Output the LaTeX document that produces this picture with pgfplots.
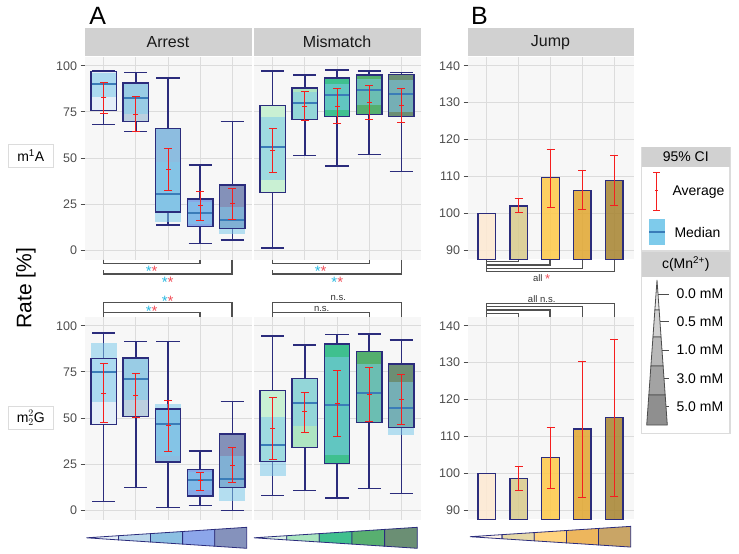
\documentclass[border=0pt]{standalone}
\usepackage{fontspec}
\setmainfont{Liberation Sans}
\usepackage{pgfplots}
\pgfplotsset{compat=1.18}
\usepgfplotslibrary{statistics}

\definecolor{panelbg}{HTML}{F7F7F7}
\definecolor{gridc}{HTML}{DCDCDC}
\definecolor{stripc}{HTML}{D1D1D1}
\definecolor{navy}{HTML}{2B2C7C}
\definecolor{medc}{HTML}{3A7CB8}
\definecolor{bandc}{HTML}{7ECBEB}
\definecolor{redc}{HTML}{F51E1E}
\definecolor{tickc}{HTML}{4D4D4D}
\definecolor{brk}{HTML}{505050}
\definecolor{cyanS}{HTML}{2BB8E0}
\definecolor{redS}{HTML}{F0505A}
% box fills
\definecolor{a1}{HTML}{E4EEF8}
\definecolor{a2}{HTML}{BBCFDF}
\definecolor{a3}{HTML}{8DBDE0}
\definecolor{a4}{HTML}{87A7E6}
\definecolor{a5}{HTML}{8491B9}
\definecolor{m1}{HTML}{C9F0D3}
\definecolor{m2}{HTML}{AEE5C2}
\definecolor{m3}{HTML}{3FC08F}
\definecolor{m4}{HTML}{54AF6E}
\definecolor{m5}{HTML}{6C8E74}
\definecolor{j1}{HTML}{FDE9D2}
\definecolor{j2}{HTML}{D9CB8C}
\definecolor{j3}{HTML}{FFC947}
\definecolor{j4}{HTML}{E1A72F}
\definecolor{j5}{HTML}{A7832F}
% wedge fills
\definecolor{wa1}{HTML}{E6F0F8}
\definecolor{wa2}{HTML}{BAD6EA}
\definecolor{wa3}{HTML}{8CC0E2}
\definecolor{wa4}{HTML}{8CA6EA}
\definecolor{wa5}{HTML}{8592BC}
\definecolor{wm1}{HTML}{DDF4E4}
\definecolor{wm2}{HTML}{A9E5BE}
\definecolor{wm3}{HTML}{40C08E}
\definecolor{wm4}{HTML}{58AF70}
\definecolor{wm5}{HTML}{6B8F74}
\definecolor{wj1}{HTML}{FFF4E6}
\definecolor{wj2}{HTML}{E5D8A8}
\definecolor{wj3}{HTML}{FFD37E}
\definecolor{wj4}{HTML}{EDB65D}
\definecolor{wj5}{HTML}{C9A566}

\newcommand{\fs}[1]{\fontsize{#1}{#1}\selectfont}

\pgfplotsset{
  panel/.style={
    scale only axis, width=167pt, height=203pt,
    anchor=north west,
    xmin=0.4, xmax=5.6,
    axis background/.style={fill=panelbg},
    axis line style={draw=none},
    xtick={1,2,3,4,5}, xticklabels={},
    xtick style={draw=none},
    xmajorgrids, ymajorgrids,
    grid style={draw=gridc, line width=0.9pt},
    ytick pos=left,
    ytick style={draw=tickc, line width=0.8pt},
    tick align=outside, major tick length=4pt,
    yticklabel style={font=\fs{12.5}, text=tickc},
    /pgf/number format/assume math mode=true,
    clip mode=individual,
    boxplot/draw direction=y,
  },
  panelA/.style={panel, ymin=-5, ymax=105, ytick={0,25,50,75,100}},
  panelB/.style={panel, width=166pt, ymin=87.5, ymax=142.5, ytick={90,100,...,140}},
  noyl/.style={yticklabels={}, ytick style={draw=none}},
  meanbars/.style={only marks, mark=-, mark size=2.5pt,
    mark options={draw=redc, line width=1pt},
    error bars/.cd, y dir=both, y explicit,
    error bar style={draw=redc, line width=1pt},
    error mark options={rotate=90, draw=redc, mark size=4pt, line width=1pt}},
  ciBars/.style={draw=none, mark=none,
    error bars/.cd, y dir=both, y explicit,
    error bar style={draw=redc, line width=1pt},
    error mark options={rotate=90, draw=redc, mark size=4pt, line width=1pt}},
  jbar/.style={ybar, bar width=0.54, bar shift=0pt, fill=#1, fill opacity=0.85,
    draw=navy, line width=1.2pt},
}

% pos, fill, lower whisker, q1, median, q3, upper whisker, band low, band high
\newcommand{\bx}[9]{%
  \addplot[boxplot prepared={draw position=#1, lower whisker=#3, lower quartile=#4,
      median=#5, upper quartile=#6, upper whisker=#7, box extend=0.8, whisker extend=0.72},
    boxplot/every box/.style={fill=#2, draw=none},
    boxplot/every whisker/.style={draw=navy, line width=1.3pt},
    boxplot/every median/.style={draw=none}] coordinates {};
  \addplot[boxplot prepared={draw position=#1, lower whisker=#8, lower quartile=#8,
      median=#5, upper quartile=#9, upper whisker=#9, box extend=0.8, whisker extend=0},
    boxplot/every box/.style={fill=bandc, fill opacity=0.55, draw=none},
    boxplot/every whisker/.style={draw=none},
    boxplot/every median/.style={draw=medc, line width=2pt}] coordinates {};
  \addplot[boxplot prepared={draw position=#1, lower whisker=#4, lower quartile=#4,
      median=#5, upper quartile=#6, upper whisker=#6, box extend=0.8, whisker extend=0},
    boxplot/every box/.style={draw=navy, line width=1.3pt},
    boxplot/every whisker/.style={draw=none},
    boxplot/every median/.style={draw=none}] coordinates {};
}

\newcommand{\wedgebar}[5]{%
  \foreach \c [count=\i] in {#5} {
    \pgfmathsetmacro\xa{#1+(\i-1)*(#2-#1)/5}
    \pgfmathsetmacro\xb{#1+\i*(#2-#1)/5}
    \pgfmathsetmacro\ha{#4*(\i-1)/5}
    \pgfmathsetmacro\hb{#4*\i/5}
    \filldraw[fill=\c, draw=navy, line width=0.8pt]
      (\xa,#3-\ha) -- (\xb,#3-\hb) -- (\xb,#3+\hb) -- (\xa,#3+\ha) -- cycle;
  }
}
\newcommand{\stars}{{\color{cyanS}*}{\color{redS}*}}

\begin{document}
\begin{tikzpicture}
\useasboundingbox (0pt,0pt) rectangle (739pt,-554pt);

% ---------- A, m1A ----------
\begin{axis}[panelA, at={(84.5pt,-56.5pt)}]
  \bx{1}{a1}{68.3}{75.9}{90.3}{96.7}{97.6}{83.1}{95.8}
  \bx{2}{a2}{64.5}{69.7}{82.6}{90.7}{96.3}{73.7}{90.7}
  \bx{3}{a3}{13.7}{20.8}{30.4}{65.9}{93.4}{15.4}{48.0}
  \bx{4}{a4}{3.8}{12.8}{20.2}{27.8}{46.2}{14.0}{26.0}
  \bx{5}{a5}{5.6}{11.7}{16.3}{35.4}{69.9}{9.0}{23.5}
  \addplot[meanbars] coordinates {
    (1,82.6) += (0,8.3) -= (0,8.5)
    (2,73.5) += (0,10.0) -= (0,9.4)
    (3,43.5) += (0,11.4) -= (0,11.2)
    (4,24.4) += (0,7.2) -= (0,8.1)
    (5,25.1) += (0,8.3) -= (0,8.5)
  };
\end{axis}
\begin{axis}[panelA, noyl, at={(253.5pt,-56.5pt)}]
  \bx{1}{m1}{1.3}{31.3}{56.0}{78.6}{97.2}{37.9}{72.3}
  \bx{2}{m2}{51.5}{70.8}{79.7}{88.0}{94.9}{70.8}{86.0}
  \bx{3}{m3}{45.7}{72.6}{84.0}{93.4}{97.7}{75.9}{90.3}
  \bx{4}{m4}{51.9}{73.5}{86.7}{94.9}{97.2}{78.6}{93.0}
  \bx{5}{m5}{42.5}{72.3}{84.9}{95.2}{96.3}{75.0}{92.1}
  \addplot[meanbars] coordinates {
    (1,54.0) += (0,11.8) -= (0,12.1)
    (2,77.9) += (0,8.1) -= (0,7.8)
    (3,78.0) += (0,9.4) -= (0,9.3)
    (4,79.9) += (0,9.3) -= (0,8.9)
    (5,78.6) += (0,9.0) -= (0,9.6)
  };
\end{axis}

% ---------- A, m22G ----------
\begin{axis}[panelA, at={(84.5pt,-316.5pt)}]
  \bx{1}{a1}{4.7}{46.3}{75.1}{82.2}{96.0}{58.9}{90.8}
  \bx{2}{a2}{12.4}{51.0}{71.0}{82.5}{91.4}{59.8}{82.5}
  \bx{3}{a3}{1.4}{26.1}{46.8}{54.8}{91.4}{29.2}{57.7}
  \bx{4}{a4}{2.5}{7.7}{16.6}{22.2}{32.1}{11.0}{21.0}
  \bx{5}{a5}{0.0}{12.3}{17.1}{41.4}{59.1}{5.0}{29.2}
  \addplot[meanbars] coordinates {
    (1,63.4) += (0,15.9) -= (0,15.8)
    (2,62.2) += (0,12.0) -= (0,11.9)
    (3,45.8) += (0,13.7) -= (0,13.7)
    (4,16.0) += (0,4.7) -= (0,5.2)
    (5,24.3) += (0,9.9) -= (0,9.5)
  };
\end{axis}
\begin{axis}[panelA, noyl, at={(253.5pt,-316.5pt)}]
  \bx{1}{m1}{7.9}{26.5}{35.5}{64.9}{94.4}{18.7}{50.8}
  \bx{2}{m2}{10.8}{34.1}{58.4}{71.5}{89.5}{45.4}{71.5}
  \bx{3}{m3}{6.7}{25.2}{56.8}{90.1}{95.1}{30.1}{83.2}
  \bx{4}{m4}{11.7}{47.6}{63.4}{85.9}{95.5}{47.6}{79.3}
  \bx{5}{m5}{9.0}{45.0}{55.5}{79.3}{92.3}{40.9}{69.7}
  \addplot[meanbars] coordinates {
    (1,44.5) += (0,16.8) -= (0,17.1)
    (2,53.3) += (0,10.7) -= (0,11.0)
    (3,57.7) += (0,18.2) -= (0,17.9)
    (4,62.9) += (0,14.2) -= (0,14.8)
    (5,59.8) += (0,13.7) -= (0,13.5)
  };
\end{axis}

% ---------- B, Jump ----------
\begin{axis}[panelB, at={(467.5pt,-56.5pt)}]
  \addplot[jbar=j1] coordinates {(1,100.0)};
  \addplot[jbar=j2] coordinates {(2,102.0)};
  \addplot[jbar=j3] coordinates {(3,109.7)};
  \addplot[jbar=j4] coordinates {(4,106.3)};
  \addplot[jbar=j5] coordinates {(5,109.0)};
  \addplot[ciBars] coordinates {
    (2,102.0) += (0,2.0) -= (0,1.9)
    (3,109.7) += (0,7.7) -= (0,8.0)
    (4,106.3) += (0,5.3) -= (0,5.3)
    (5,109.0) += (0,6.7) -= (0,6.9)
  };
\end{axis}
\begin{axis}[panelB, at={(467.5pt,-316.5pt)}]
  \addplot[jbar=j1] coordinates {(1,100.0)};
  \addplot[jbar=j2] coordinates {(2,98.7)};
  \addplot[jbar=j3] coordinates {(3,104.3)};
  \addplot[jbar=j4] coordinates {(4,112.0)};
  \addplot[jbar=j5] coordinates {(5,115.1)};
  \addplot[ciBars] coordinates {
    (2,98.7) += (0,3.2) -= (0,3.3)
    (3,104.3) += (0,8.2) -= (0,8.4)
    (4,112.0) += (0,18.2) -= (0,18.5)
    (5,115.1) += (0,21.3) -= (0,21.3)
  };
\end{axis}

% ---------- annotations, in pixel units of the reference ----------
\begin{scope}[x=1pt, y=-1pt]
  % panel letters
  \node[font=\fs{25}] at (97.8,15.8) {A};
  \node[font=\fs{25}] at (479.5,15.8) {B};
  % strips
  \fill[stripc] (84.5,28.3) rectangle (251.5,56);
  \fill[stripc] (253.5,28.3) rectangle (420.5,56);
  \fill[stripc] (467.5,28.3) rectangle (633.5,56);
  \node[font=\fs{16}, text=black!90] at (168,42.2) {Arrest};
  \node[font=\fs{16}, text=black!90] at (337,42.2) {Mismatch};
  \node[font=\fs{16}, text=black!90] at (550.5,42.2) {Jump};
  % row labels
  \draw[draw=gridc, line width=1.2pt, fill=white] (8.3,144.3) rectangle (53.3,167.3);
  \node[font=\fs{14}] at (30.8,155.8) {m\textsuperscript{1}A};
  \draw[draw=gridc, line width=1.2pt, fill=white] (8.3,406.5) rectangle (53.3,429.5);
  \node[font=\fs{14}] at (30.8,418) {m$^{2}_{2}$G};
  \node[font=\fs{21}, rotate=90] at (26,288) {Rate [\%]};

  % brackets, A top
  \begin{scope}[draw=brk, line width=1.2pt]
    \draw (103.3,259.5) -- (103.3,263.3) -- (200,263.3) -- (200,259.5);
    \draw (103.3,270) -- (103.3,274) -- (232,274) -- (232,259.5);
    \draw (272.3,259.5) -- (272.3,263.3) -- (369.3,263.3) -- (369.3,259.5);
    \draw (272.3,270) -- (272.3,274) -- (401.7,274) -- (401.7,259.5);
    % A bottom
    \draw (103.3,316.5) -- (103.3,302.3) -- (232,302.3) -- (232,316.5);
    \draw (103.3,316.5) -- (103.3,312.3) -- (200,312.3) -- (200,316.5);
    \draw (272.3,316.5) -- (272.3,302.3) -- (401.7,302.3) -- (401.7,316.5);
    \draw (272.3,316.5) -- (272.3,312.3) -- (369.3,312.3) -- (369.3,316.5);
    % B top
    \draw (486.3,259.5) -- (486.3,271.7);
    \draw (486.3,261.7) -- (518.3,261.7) -- (518.3,259.5);
    \draw (486.3,265) -- (550,265) -- (550,259.5);
    \draw (486.3,268.3) -- (582.3,268.3) -- (582.3,259.5);
    \draw (486.3,271.7) -- (614.3,271.7) -- (614.3,259.5);
    % B bottom
    \draw (486.3,316.5) -- (486.3,303.3);
    \draw (486.3,303.3) -- (614.3,303.3) -- (614.3,316.5);
    \draw (486.3,306.7) -- (582.3,306.7) -- (582.3,316.5);
    \draw (486.3,310) -- (550,310) -- (550,316.5);
    \draw (486.3,313.3) -- (518.3,313.3) -- (518.3,316.5);
  \end{scope}
  \begin{scope}[every node/.style={font=\fs{15}, anchor=base, inner sep=0pt}]
    \node at (151.7,276.8) {\stars};
    \node at (167.7,287.5) {\stars};
    \node at (320.7,276.8) {\stars};
    \node at (337.3,287.5) {\stars};
    \node at (167.7,306.2) {\stars};
    \node at (151.7,316.2) {\stars};
  \end{scope}
  \begin{scope}[every node/.style={font=\fs{9.5}, text=black!80, inner sep=0pt}]
    \node at (338.3,298.3) {n.s.};
    \node at (321.7,308.7) {n.s.};
    \node at (541.7,299) {all n.s.};
    \node at (541.7,279.3) {all \raisebox{-2.5pt}{\fs{13}\color{redS}*}};
  \end{scope}

  % wedges
  \wedgebar{86.5}{246.7}{537.8}{10.5}{wa1,wa2,wa3,wa4,wa5}
  \wedgebar{254}{417.3}{537.8}{10.5}{wm1,wm2,wm3,wm4,wm5}
  \wedgebar{470}{630.7}{536.7}{10.35}{wj1,wj2,wj3,wj4,wj5}

  % legend: 95% CI
  \draw[draw=gridc, line width=1.5pt, fill=white] (641.7,147.3) rectangle (730,250.5);
  \fill[stripc] (641.7,147.3) rectangle (730,166.7);
  \node[font=\fs{14}] at (685.8,157) {95\% CI};
  \begin{scope}[draw=redc, line width=1pt]
    \draw (656.7,172.7) -- (656.7,210);
    \draw (653.2,172.7) -- (660.2,172.7);
    \draw (653.2,210) -- (660.2,210);
    \draw (655,190.7) -- (658.4,190.7);
  \end{scope}
  \node[font=\fs{14}, anchor=west] at (669,192) {Average};
  \fill[bandc] (649,219) rectangle (664.5,245);
  \draw[medc, line width=2pt] (649,231.7) -- (664.5,231.7);
  \node[font=\fs{14}, anchor=west] at (671,232) {Median};

  % legend: c(Mn2+)
  \draw[draw=gridc, line width=1.5pt, fill=white] (641.7,251.5) rectangle (730,433.3);
  \fill[stripc] (641.7,251.5) rectangle (730,276.7);
  \node[font=\fs{14}] at (685.8,264) {c(Mn\textsuperscript{2+})};
  \begin{scope}[draw=black!70, line width=0.8pt]
    \filldraw[fill=black!9] (657,280) -- (659.13,310) -- (654.87,310) -- cycle;
    \filldraw[fill=black!18] (654.87,310) -- (659.13,310) -- (661.05,337) -- (652.95,337) -- cycle;
    \filldraw[fill=black!28] (652.95,337) -- (661.05,337) -- (663.11,366) -- (650.89,366) -- cycle;
    \filldraw[fill=black!36] (650.89,366) -- (663.11,366) -- (665.17,395) -- (648.83,395) -- cycle;
    \filldraw[fill=black!44] (648.83,395) -- (665.17,395) -- (667.3,425) -- (646.7,425) -- cycle;
    \draw (658,294) -- (669,294);
    \draw (660,321.7) -- (669,321.7);
    \draw (662,350) -- (669,350);
    \draw (664,378.3) -- (669,378.3);
    \draw (666,406.7) -- (669,406.7);
  \end{scope}
  \begin{scope}[every node/.style={font=\fs{14}, anchor=west}]
    \node at (673,294) {0.0 mM};
    \node at (673,321.7) {0.5 mM};
    \node at (673,350) {1.0 mM};
    \node at (673,378.3) {3.0 mM};
    \node at (673,406.7) {5.0 mM};
  \end{scope}
\end{scope}
\end{tikzpicture}
\end{document}
